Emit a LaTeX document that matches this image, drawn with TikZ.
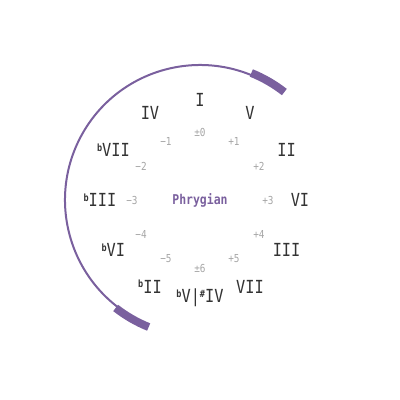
\documentclass[tikz,border=0pt]{standalone}
\usepackage{fontspec}
\setmonofont[FakeStretch=0.85]{DejaVu Sans Mono}
\usepackage{xcolor}
\definecolor{modecol}{RGB}{122, 96, 158}
\definecolor{degcol}{RGB}{51, 51, 51}
\definecolor{stepcol}{RGB}{165, 165, 165}
\newcommand{\flt}{\raisebox{5.5pt}{\fontsize{10}{10}\selectfont\bfseries b}}
\newcommand{\shp}{\raisebox{5.5pt}{\fontsize{10}{10}\selectfont\bfseries\#}}
\usepackage{tikz}
\usetikzlibrary{calc}

\tikzset{
    numeral/.style={font=\ttfamily\fontsize{18}{18}\selectfont, text=degcol, inner sep=0pt},
    steplabel/.style={font=\ttfamily\fontsize{11}{11}\selectfont, text=stepcol, inner sep=0pt},
}

\begin{document}
\begin{tikzpicture}[x=1pt, y=1pt]
    \useasboundingbox (-200, -200) rectangle (200, 200);

    % Mode arc: from V (60 deg) back round to bII (240 deg)
    \draw[modecol, line width=2pt] (60:135) arc[start angle=60, end angle=240, radius=135];
    \draw[modecol, line width=8pt] (52:137) arc[start angle=52, end angle=68, radius=137];
    \draw[modecol, line width=8pt] (232:137) arc[start angle=232, end angle=248, radius=137];

    % Degrees round the circle of fifths
    \node[numeral] (dI)    at (90:100)  {I};
    \node[numeral] (dV)    at (60:100)  {V};
    \node[numeral] (dII)   at (30:100)  {II};
    \node[numeral] (dVI)   at (0:100)   {VI};
    \node[numeral] (dIII)  at (-30:100) {III};
    \node[numeral] (dVII)  at (-60:100) {VII};
    \node[numeral] (dTri)  at (-90:98)  {\flt V|\shp IV};
    \node[numeral] (dbII)  at (240:100) {\flt II};
    \node[numeral] (dbVI)  at (210:100) {\flt VI};
    \node[numeral] (dbIII) at (180:100) {\flt III};
    \node[numeral] (dbVII) at (150:100) {\flt VII};
    \node[numeral] (dIV)   at (120:100) {IV};

    % Steps on the circle
    \node[steplabel] (s0)  at (90:68)  {±0};
    \node[steplabel] (s1)  at (60:68)  {+1};
    \node[steplabel] (s2)  at (30:68)  {+2};
    \node[steplabel] (s3)  at (0:68)   {+3};
    \node[steplabel] (s4)  at (-30:68) {+4};
    \node[steplabel] (s5)  at (-60:68) {+5};
    \node[steplabel] (s6)  at (-90:68) {±6};
    \node[steplabel] (m5)  at (240:68) {−5};
    \node[steplabel] (m4)  at (210:68) {−4};
    \node[steplabel] (m3)  at (180:68) {−3};
    \node[steplabel] (m2)  at (150:68) {−2};
    \node[steplabel] (m1)  at (120:68) {−1};

    % Mode name
    \node[font=\ttfamily\bfseries\fontsize{13.5}{14}\selectfont, text=modecol] (mode) at (0, 0) {Phrygian};
\end{tikzpicture}
\end{document}
